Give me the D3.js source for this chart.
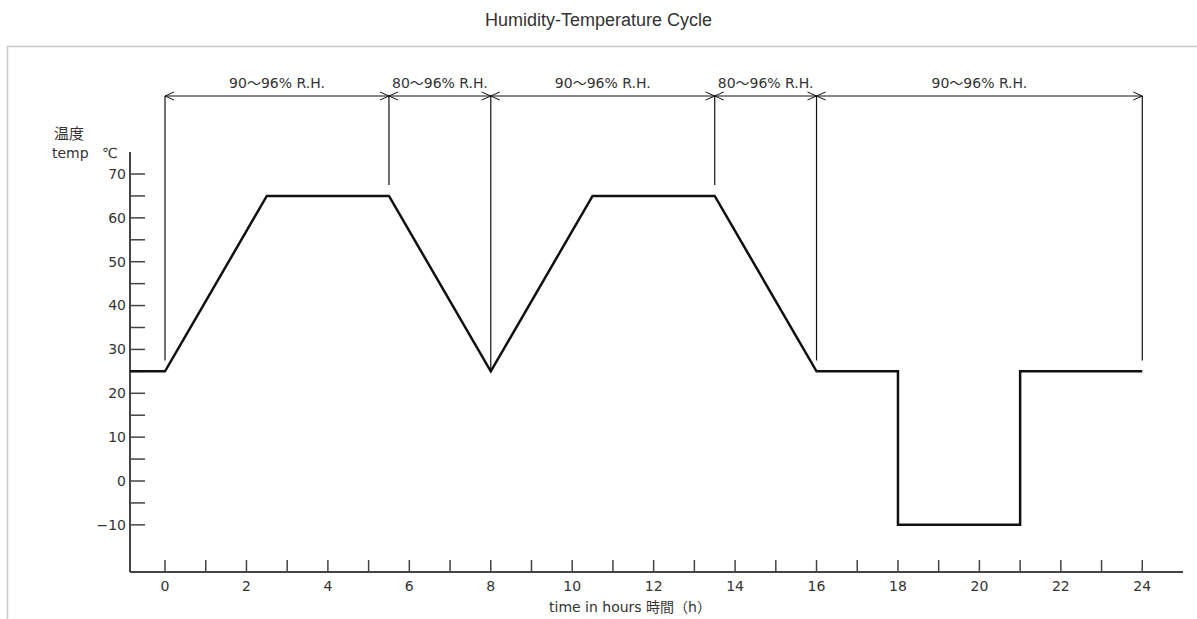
<!DOCTYPE html>
<html>
<head>
<meta charset="utf-8">
<script src="https://cdn.jsdelivr.net/npm/d3@7"></script>
<style>
  body { margin: 0; background: #fff; }
  text { font-family: "DejaVu Sans", "Noto Sans CJK JP", sans-serif; }
</style>
</head>
<body>
<svg class="chart"></svg>
<script>
// Size of the page
const width = 1197;
const height = 619;

// Temperature profile (hours, °C)
const times = [-0.86, 0, 2.5, 5.5, 8, 10.5, 13.5, 16, 18, 18, 21, 21, 24];
const temps = [25, 25, 65, 65, 25, 65, 65, 25, 25, -10, -10, 25, 25];

// Humidity periods
const rhBounds = [0, 5.5, 8, 13.5, 16, 24];
const rhMarkEnds = [27.5, 67.5, 25, 67.5, 27.5, 27.5];
const rhLabels = ["90～96% R.H.", "80～96% R.H.", "90～96% R.H.", "80～96% R.H.", "90～96% R.H."];

// Axis ticks
const xTicks = d3.range(0, 25, 1);
const xLabels = d3.range(0, 25, 2);
const yTicks = d3.range(-10, 71, 5);
const yLabels = d3.range(-10, 71, 10);

const svg = d3.select(".chart")
    .attr("width", width)
    .attr("height", height);

// Title
svg.append("text")
    .attr("x", width / 2)
    .attr("y", 26)
    .attr("text-anchor", "middle")
    .style("font-family", "'Liberation Sans', Arial, sans-serif")
    .style("font-size", "18px")
    .attr("fill", "#333")
    .text("Humidity-Temperature Cycle");

// Frame of the picture
svg.append("path")
    .attr("d", `M7.5,${height}V46.5H${width}`)
    .attr("fill", "none")
    .attr("stroke", "#c8c8c8")
    .attr("stroke-width", 1.5);

// Scales
const x = d3.scaleLinear().domain([-0.86, 25]).range([130, 1183]);
const y = d3.scaleLinear().domain([0, 70]).range([481, 174]);
const yBottom = 572, yTop = 152;

const g = svg.append("g");
const axisColor = "#444";
const textColor = "#333";

// Y axis
g.append("line")
    .attr("x1", x(-0.86)).attr("x2", x(-0.86))
    .attr("y1", yTop).attr("y2", yBottom)
    .attr("stroke", axisColor).attr("stroke-width", 2);

g.selectAll(".ytick")
    .data(yTicks)
    .enter().append("line")
    .attr("class", "ytick")
    .attr("x1", x(-0.86)).attr("x2", x(-0.86) + 15)
    .attr("y1", d => y(d)).attr("y2", d => y(d))
    .attr("stroke", axisColor).attr("stroke-width", 1.5);

g.selectAll(".ylabel")
    .data(yLabels)
    .enter().append("text")
    .attr("class", "ylabel")
    .attr("x", x(-0.86) - 4)
    .attr("y", d => y(d))
    .attr("dy", "0.35em")
    .attr("text-anchor", "end")
    .attr("fill", textColor)
    .style("font-size", "14px")
    .text(d => d < 0 ? "−" + Math.abs(d) : d);

// X axis
g.append("line")
    .attr("x1", x(-0.86)).attr("x2", x(25))
    .attr("y1", yBottom).attr("y2", yBottom)
    .attr("stroke", axisColor).attr("stroke-width", 2);

g.selectAll(".xtick")
    .data(xTicks)
    .enter().append("line")
    .attr("class", "xtick")
    .attr("x1", d => x(d)).attr("x2", d => x(d))
    .attr("y1", yBottom).attr("y2", yBottom - 12)
    .attr("stroke", axisColor).attr("stroke-width", 1.5);

g.selectAll(".xlabel")
    .data(xLabels)
    .enter().append("text")
    .attr("class", "xlabel")
    .attr("x", d => x(d))
    .attr("y", 591)
    .attr("text-anchor", "middle")
    .attr("fill", textColor)
    .style("font-size", "14px")
    .text(d => d);

// Axis titles
g.append("text")
    .attr("x", 630).attr("y", 612)
    .attr("text-anchor", "middle")
    .attr("fill", textColor)
    .style("font-size", "14px")
    .text("time in hours 時間（h）");

g.append("text")
    .attr("x", 54).attr("y", 139)
    .attr("fill", textColor)
    .style("font-size", "15px")
    .text("温度");

g.append("text")
    .attr("x", 52).attr("y", 158)
    .attr("fill", textColor)
    .style("font-size", "14px")
    .text("temp");

g.append("text")
    .attr("x", 102).attr("y", 158)
    .attr("fill", textColor)
    .style("font-size", "14px")
    .text("℃");

// Temperature line
const line = d3.line()
    .x((d, i) => x(times[i]))
    .y(d => y(d));

g.append("path")
    .datum(temps)
    .attr("d", line)
    .attr("fill", "none")
    .attr("stroke", "#111")
    .attr("stroke-width", 2.5)
    .attr("stroke-linejoin", "miter");

// Humidity dimension lines
const dimY = 96;

g.selectAll(".rhmark")
    .data(rhBounds)
    .enter().append("line")
    .attr("class", "rhmark")
    .attr("x1", d => x(d)).attr("x2", d => x(d))
    .attr("y1", dimY).attr("y2", (d, i) => y(rhMarkEnds[i]))
    .attr("stroke", "#111").attr("stroke-width", 1.2);

g.append("line")
    .attr("x1", x(rhBounds[0])).attr("x2", x(rhBounds[rhBounds.length - 1]))
    .attr("y1", dimY).attr("y2", dimY)
    .attr("stroke", "#111").attr("stroke-width", 1);

// Open arrow heads at each end of every period
const segments = rhLabels.map((label, i) => ({ label, a: rhBounds[i], b: rhBounds[i + 1] }));

function arrow(px, dir) {
    return `M${px + dir * 9},${dimY - 4}L${px},${dimY}L${px + dir * 9},${dimY + 4}`;
}

g.selectAll(".arrow")
    .data(segments)
    .enter().append("path")
    .attr("class", "arrow")
    .attr("d", d => arrow(x(d.a), 1) + arrow(x(d.b), -1))
    .attr("fill", "none")
    .attr("stroke", "#111")
    .attr("stroke-width", 1);

g.selectAll(".rhlabel")
    .data(segments)
    .enter().append("text")
    .attr("class", "rhlabel")
    .attr("x", d => (x(d.a) + x(d.b)) / 2)
    .attr("y", dimY - 8)
    .attr("text-anchor", "middle")
    .attr("fill", textColor)
    .style("font-size", "14px")
    .text(d => d.label);
</script>
</body>
</html>
